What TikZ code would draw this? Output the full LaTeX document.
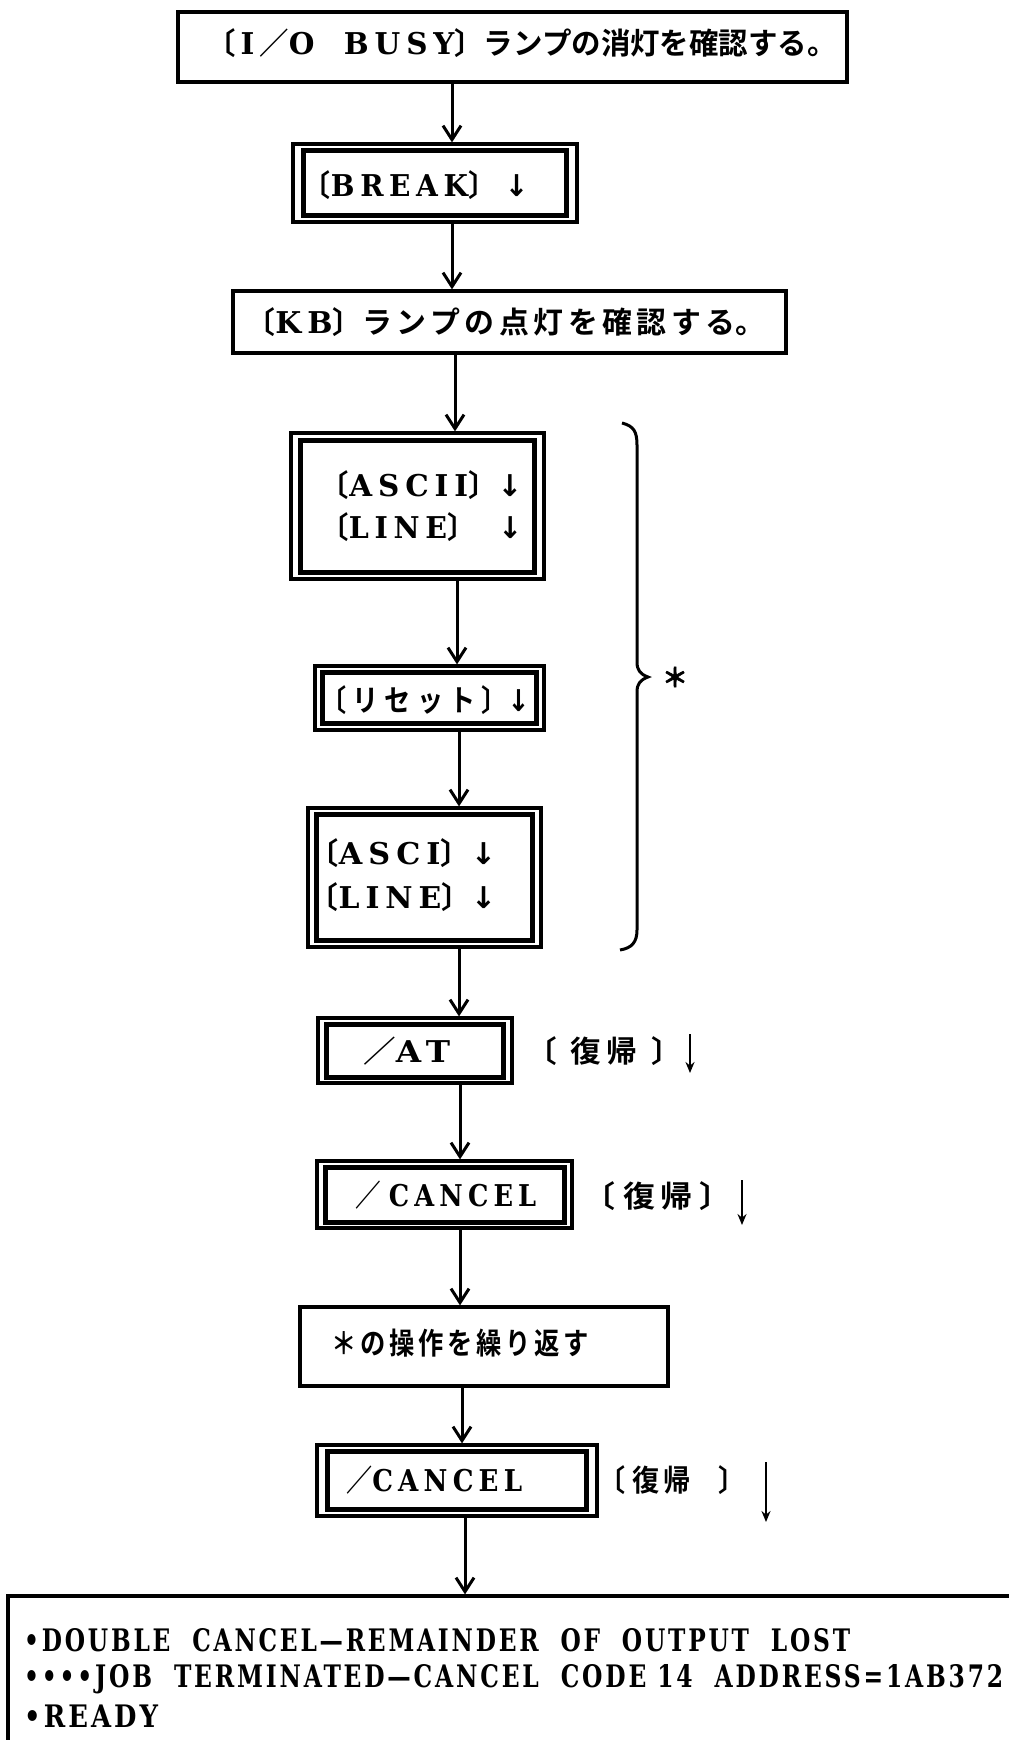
\documentclass[tikz,border=0pt]{standalone}
\usepackage{fontspec}
\usepackage{graphicx}
\setmainfont{DejaVu Serif}
\newfontfamily\jpf{Noto Sans CJK JP Bold}
\newfontfamily\symf{DejaVu Sans}
\usetikzlibrary{arrows.meta}
\newcommand\J[1]{{\jpf #1}}
\newcommand\Lt[1]{{\bfseries\addfontfeature{LetterSpace=20}#1}}
\newcommand\Dn{{\symf\bfseries ↓}}
\newcommand\Fit[2]{\resizebox{#1pt}{\height}{#2}}
\newcommand\Lb{{\jpf\kern-.45em 〔}}
\newcommand\Rb{{\jpf 〕\kern-.45em}}
\newcommand\Maru{{\jpf 。\kern-.55em}}
\begin{document}
\begin{tikzpicture}[x=1pt,y=-1pt,
  box/.style={draw,line width=3.2pt,inner sep=0pt},
  inbox/.style={line width=4.6pt},
  flow/.style={line width=3pt,-{Straight Barb[length=14pt,width=18pt]}},
  txt/.style={inner sep=0pt,font=\fontsize{30}{34}\selectfont},
  btxt/.style={inner sep=0pt,anchor=west,font=\fontsize{31}{34}\selectfont\bfseries},
  keyarrow/.style={line width=2.4pt,-{Stealth[length=11pt,width=9pt]}},
  brace/.style={line width=3pt}]
\useasboundingbox (0,0) rectangle (1009,1740);
% boxes
\node[box,minimum width=669pt,minimum height=70pt] (b1) at (512.5,47) {};
\node[box,minimum width=284pt,minimum height=78pt] (b2) at (435,183) {};
\draw[inbox] ([shift={(12,8)}]b2.north west) rectangle ([shift={(-12,-8)}]b2.south east);
\node[box,minimum width=553pt,minimum height=62pt] (b3) at (509.5,322) {};
\node[box,minimum width=253pt,minimum height=146pt] (b4) at (417.5,506) {};
\draw[inbox] ([shift={(11,9)}]b4.north west) rectangle ([shift={(-11,-8)}]b4.south east);
\node[box,minimum width=229pt,minimum height=64pt] (b5) at (429.5,698) {};
\draw[inbox] ([shift={(9,8)}]b5.north west) rectangle ([shift={(-9,-8)}]b5.south east);
\node[box,minimum width=233pt,minimum height=139pt] (b6) at (424.5,877.5) {};
\draw[inbox] ([shift={(10,8)}]b6.north west) rectangle ([shift={(-10,-8)}]b6.south east);
\node[box,minimum width=194pt,minimum height=65pt] (b7) at (415,1050.5) {};
\draw[inbox] ([shift={(10,8)}]b7.north west) rectangle ([shift={(-10,-7)}]b7.south east);
\node[box,minimum width=255pt,minimum height=67pt] (b8) at (444.5,1194.5) {};
\draw[inbox] ([shift={(10,8)}]b8.north west) rectangle ([shift={(-9,-7)}]b8.south east);
\node[box,minimum width=368pt,minimum height=79pt] (b9) at (484,1346.5) {};
\node[box,minimum width=280pt,minimum height=71pt] (b10) at (457,1480.5) {};
\draw[inbox] ([shift={(12,8)}]b10.north west) rectangle ([shift={(-12,-8)}]b10.south east);
\node[box,minimum width=1040pt,minimum height=200pt] (b11) at (528,1696) {};
% texts
\node[txt] (t1) at (520,43) {\Fit{601}{\Lb\Lt{\,I\,}\J{／}\Lt{O\quad BUSY}\J{〕ランプの消灯を確認する}\Maru}};
\node[txt] (t2) at (422,185) {\Fit{213}{\Lb\Lt{BREAK}\J{〕}\ \Dn}};
\node[txt] (t3) at (504,322) {\Fit{490}{\Lb\Lt{KB}\J{〕\addfontfeature{LetterSpace=15}ランプの点灯を確認する}\Maru}};
\node[txt,anchor=west] (t4a) at (333,485) {\Fit{189}{\Lb\Lt{ASCII}\J{〕}\Dn}};
\node[txt,anchor=west] (t4b) at (333,527) {\Fit{189}{\Lb\Lt{LINE}\J{〕}\hspace{24pt}\Dn}};
\node[txt] (t5) at (431,700) {\Fit{197}{\Lb\J{\ リ\ セ\ ッ\ ト\ 〕}\Dn}};
\node[txt,anchor=west] (t6a) at (322,853) {\Fit{174}{\Lb\Lt{ASCI}\J{〕}\Dn}};
\node[txt,anchor=west] (t6b) at (322,897) {\Fit{174}{\Lb\Lt{LINE}\J{〕}\Dn}};
\node[txt,anchor=west] (t7) at (363,1051) {\Fit{87}{\J{／}\Lt{AT}}};
\node[txt,anchor=west] (l7) at (540,1051) {\Fit{128}{\Lb\J{\ \ 復\,帰\ \ }\Rb}};
\node[txt,anchor=west] (t8) at (355,1195) {\Fit{181}{\J{／}\ \Lt{CANCEL}}};
\node[txt,anchor=west] (l8) at (598,1196) {\Fit{119}{\Lb\J{\ 復\,帰\ }\Rb}};
\node[txt,anchor=west] (t9) at (331,1343) {\Fit{258}{\J{\addfontfeature{LetterSpace=15}＊の操作を繰り返す}}};
\node[txt,anchor=west] (t10) at (346,1480) {\Fit{176}{\J{／}\Lt{CANCEL}}};
\node[txt,anchor=west] (l10) at (611,1480) {\Fit{122}{\Lb\J{\ 復\,帰\quad }\Rb}};
\node[txt,font=\fontsize{26}{30}\selectfont] (star) at (675,677) {\J{\addfontfeature{FakeBold=2}＊}};
\node[btxt] (m1) at (24,1640) {\Fit{826}{\addfontfeature{LetterSpace=12}•DOUBLE\ \ CANCEL—REMAINDER\ \ OF\ \ OUTPUT\ \ LOST}};
\node[btxt] (m2) at (24,1679) {\Fit{979}{\addfontfeature{LetterSpace=12}••••JOB\ \ TERMINATED—CANCEL\ \ CODE\ 14\ \ ADDRESS=1AB372}};
\node[btxt] (m3) at (24,1716) {\Fit{134}{\addfontfeature{LetterSpace=12}•READY}};
% key arrows
\coordinate (k7) at (690,0);
\coordinate (k8) at (742,0);
\coordinate (k10) at (766,0);
\draw[keyarrow] ([yshift=17pt]l7.west -| k7) -- ([yshift=-22pt]l7.west -| k7);
\draw[keyarrow] ([yshift=16pt]l8.west -| k8) -- ([yshift=-29pt]l8.west -| k8);
\draw[keyarrow] ([yshift=18pt]l10.west -| k10) -- ([yshift=-42pt]l10.west -| k10);
% connectors
\coordinate (c1) at (452,0);
\coordinate (c2) at (455,0);
\coordinate (c3) at (457,0);
\coordinate (c4) at (459,0);
\coordinate (c5) at (460,0);
\coordinate (c6) at (462,0);
\coordinate (c7) at (465,0);
\draw[flow] (b1.south -| c1) -- (b2.north -| c1);
\draw[flow] (b2.south -| c1) -- (b3.north -| c1);
\draw[flow] (b3.south -| c2) -- (b4.north -| c2);
\draw[flow] (b4.south -| c3) -- (b5.north -| c3);
\draw[flow] (b5.south -| c4) -- (b6.north -| c4);
\draw[flow] (b6.south -| c4) -- (b7.north -| c4);
\draw[flow] (b7.south -| c5) -- (b8.north -| c5);
\draw[flow] (b8.south -| c5) -- (b9.north -| c5);
\draw[flow] (b9.south -| c6) -- (b10.north -| c6);
\draw[flow] (b10.south -| c7) -- (b11.north -| c7);
% brace
\draw[brace] (622,423) .. controls (634,426) and (637,432) .. (637,445)
  -- (637,662) .. controls (637,670) and (640,674) .. (648,677)
  .. controls (640,680) and (637,684) .. (637,692)
  -- (637,930) .. controls (637,942) and (632,948) .. (620,950);
\end{tikzpicture}
\end{document}
